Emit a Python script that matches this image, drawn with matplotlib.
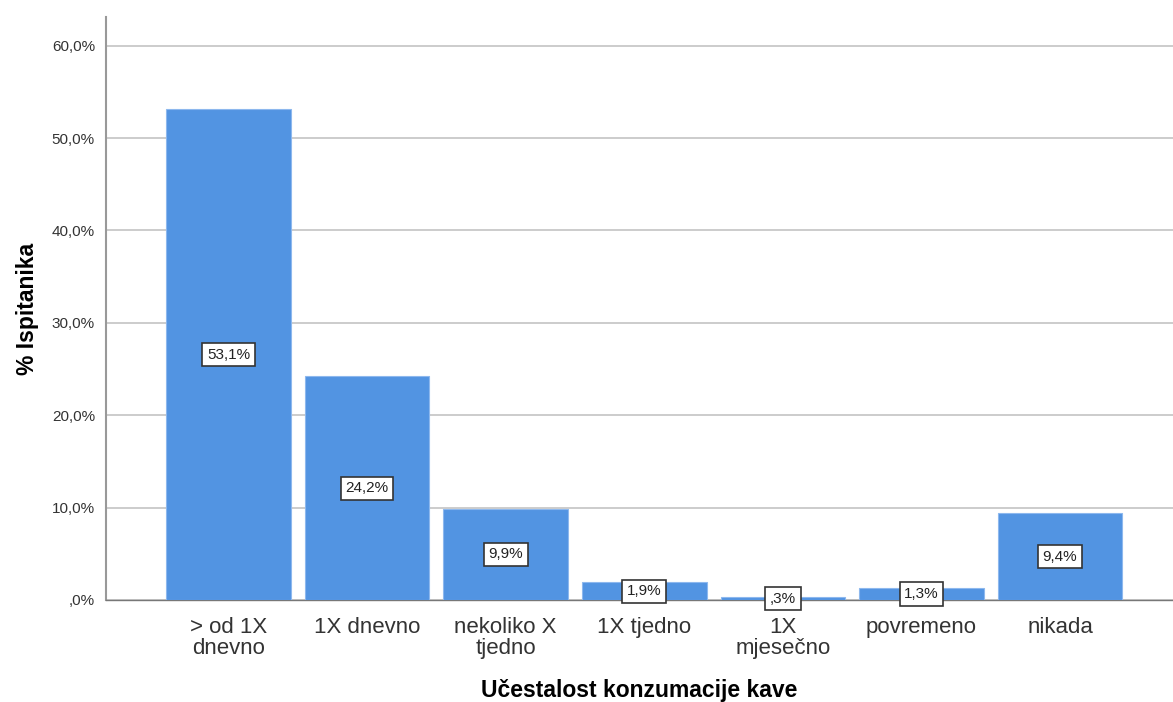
import matplotlib.pyplot as plt
import numpy as np

plt.rcParams['font.family'] = ['Liberation Sans', 'DejaVu Sans']

categories = ["> od 1X\ndnevno", "1X dnevno", "nekoliko X\ntjedno", "1X tjedno",
              "1X\nmjesečno", "povremeno", "nikada"]
percent = [53.1, 24.2, 9.9, 1.9, 0.3, 1.3, 9.4]
bar_labels = ["53,1%", "24,2%", "9,9%", "1,9%", ",3%", "1,3%", "9,4%"]
yticks = [0, 10, 20, 30, 40, 50, 60]
ytick_labels = [",0%", "10,0%", "20,0%", "30,0%", "40,0%", "50,0%", "60,0%"]

fig = plt.figure(figsize=(11.73, 7.02), dpi=100)
ax = fig.add_axes([0.0904, 0.1453, 0.9096, 0.8305])

x = np.arange(len(categories))
ax.bar(x, percent, width=0.9, color="#5294E2", edgecolor="#8DB8EE", linewidth=0.8, zorder=3)

# value labels in white boxes at mid-height
for xi, v, lab in zip(x, percent, bar_labels):
    ax.text(xi, v / 2, lab, ha="center", va="center", fontsize=11, color="#222222", zorder=5,
            bbox=dict(boxstyle="square,pad=0.3", facecolor="white", edgecolor="#333333", linewidth=1.2))

ax.set_xlim(-0.884, 6.815)
ax.set_ylim(0, 63.1)
ax.set_yticks(yticks)
ax.set_yticklabels(ytick_labels, fontsize=11, color="#333333")
ax.set_xticks(x)
ax.set_xticklabels(categories, fontsize=16, color="#333333", linespacing=1.0)
ax.tick_params(length=0, pad=8)
ax.tick_params(axis="x", pad=12)

ax.yaxis.grid(True, color="#C8C8C8", linewidth=1.3, zorder=0)
ax.set_axisbelow(True)
for s in ["top", "right"]:
    ax.spines[s].set_visible(False)
ax.spines["left"].set_color("#999999")
ax.spines["left"].set_linewidth(1.5)
ax.spines["bottom"].set_color("#777777")
ax.spines["bottom"].set_linewidth(1.0)

ax.set_ylabel("% Ispitanika", fontsize=16.5, fontweight="bold", labelpad=9)
ax.set_xlabel("Učestalost konzumacije kave", fontsize=16.5, fontweight="bold", labelpad=15)

fig.savefig("out.png", dpi=100)
